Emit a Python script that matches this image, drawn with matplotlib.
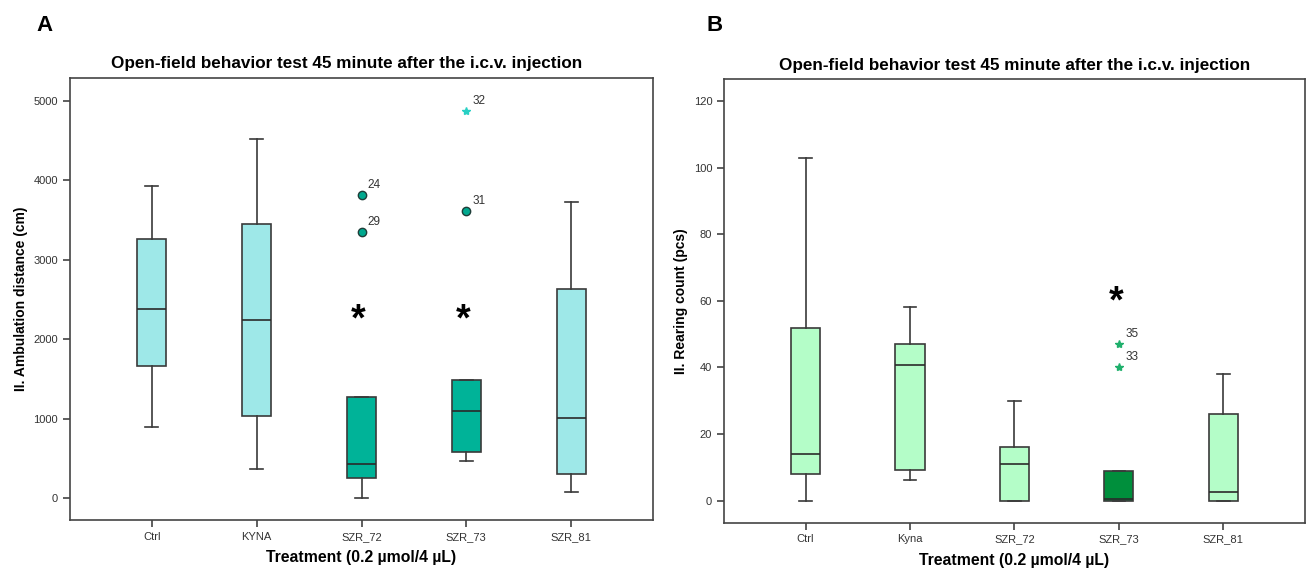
import matplotlib
matplotlib.use('Agg')
import matplotlib.pyplot as plt

plt.rcParams['font.family'] = ['Liberation Sans', 'DejaVu Sans']

# ---- panel A data: ambulation distance (cm)
groups_a = ['Ctrl', 'KYNA', 'SZR_72', 'SZR_73', 'SZR_81']
whislo_a = [898, 369, 0, 466, 72]
q1_a = [1662, 1037, 248, 583, 306]
med_a = [2384, 2238, 424, 1096, 1004]
q3_a = [3258, 3455, 1276, 1486, 2628]
whishi_a = [3933, 4525, 1276, 1486, 3732]
dark_a = [False, False, True, True, False]
circ_a = [(2, 3816, '24'), (2, 3354, '29'), (3, 3615, '31')]
star_a = [(3, 4878, '32')]
signif_a = [(2, 2296), (3, 2296)]

# ---- panel B data: rearing count (pcs)
groups_b = ['Ctrl', 'Kyna', 'SZR_72', 'SZR_73', 'SZR_81']
whislo_b = [0, 6.2, 0, 0, 0]
q1_b = [8.1, 9.2, 0, 0, 0]
med_b = [14.1, 40.6, 11, 0.4, 2.5]
q3_b = [51.9, 46.9, 16, 9, 26.1]
whishi_b = [102.9, 58, 30, 9, 38]
dark_b = [False, False, False, True, False]
star_b = [(3, 47, '35'), (3, 40, '33')]
signif_b = [(3, 61.2)]

title = 'Open-field behavior test 45 minute after the i.c.v. injection'
xlab = 'Treatment (0.2 \u00b5mol/4 \u00b5L)'

fig = plt.figure(figsize=(13.06, 5.7), dpi=100)
axA = fig.add_axes([0.0536, 0.0877, 0.4464, 0.7753])
axB = fig.add_axes([0.5544, 0.083, 0.4446, 0.778])


def draw(ax, names, lo, q1, med, q3, hi, dark, light_c, dark_c, tx=0.5):
    stats = []
    for i in range(len(names)):
        stats.append(dict(whislo=lo[i], q1=q1[i], med=med[i], q3=q3[i],
                          whishi=hi[i], fliers=[], label=names[i]))
    bp = ax.bxp(stats, positions=range(len(names)), widths=0.28,
                patch_artist=True, showfliers=False,
                boxprops=dict(edgecolor='#3a3a3a', linewidth=1.2),
                medianprops=dict(color='#2a2a2a', linewidth=1.2),
                whiskerprops=dict(color='#3a3a3a', linewidth=1.2),
                capprops=dict(color='#3a3a3a', linewidth=1.2),
                capwidths=0.12)
    for i, b in enumerate(bp['boxes']):
        b.set_facecolor(dark_c if dark[i] else light_c)
    ax.set_xlim(-0.78, len(names) - 0.22)
    for s in ax.spines.values():
        s.set_color('#444444')
        s.set_linewidth(1.2)
    ax.tick_params(axis='both', labelsize=8, colors='#333333',
                   length=5, width=1.1, direction='out')
    ax.set_title(title, fontsize=12.3, fontweight='bold', pad=7, x=tx)
    ax.set_xlabel(xlab, fontsize=11.3, fontweight='bold', labelpad=6)


draw(axA, groups_a, whislo_a, q1_a, med_a, q3_a, whishi_a, dark_a,
     '#9ee8e8', '#00b398', tx=0.475)
axA.set_ylim(-277, 5290)
axA.set_yticks([0, 1000, 2000, 3000, 4000, 5000])
axA.set_ylabel('II. Ambulation distance (cm)', fontsize=10, fontweight='bold')
for x, y, t in circ_a:
    axA.plot(x, y, 'o', ms=6, mfc='#00a88e', mec='#1e3d38', mew=1)
    axA.text(x + 0.06, y + 90, t, fontsize=8.5, color='#333333')
for x, y, t in star_a:
    axA.plot(x, y, '*', ms=6, color='#28d0c4')
    axA.text(x + 0.06, y + 90, t, fontsize=8.5, color='#333333')
for x, y in signif_a:
    axA.text(x - 0.03, y - 60, '*', fontsize=27, fontweight='bold',
             ha='center', va='center')

draw(axB, groups_b, whislo_b, q1_b, med_b, q3_b, whishi_b, dark_b,
     '#b4fdc8', '#008f3c')
axB.set_ylim(-6.6, 126.5)
axB.set_yticks([0, 20, 40, 60, 80, 100, 120])
axB.set_ylabel('II. Rearing count (pcs)', fontsize=10, fontweight='bold')
for x, y, t in star_b:
    axB.plot(x, y, '*', ms=6, color='#1fb06c')
    axB.text(x + 0.06, y + 2.2, t, fontsize=8.5, color='#333333')
for x, y in signif_b:
    axB.text(x - 0.03, y - 1.6, '*', fontsize=27, fontweight='bold',
             ha='center', va='center')

fig.text(0.028, 0.955, 'A', fontsize=16, fontweight='bold', va='center')
fig.text(0.541, 0.955, 'B', fontsize=16, fontweight='bold', va='center')

fig.savefig('out.png', dpi=100, facecolor='white')
